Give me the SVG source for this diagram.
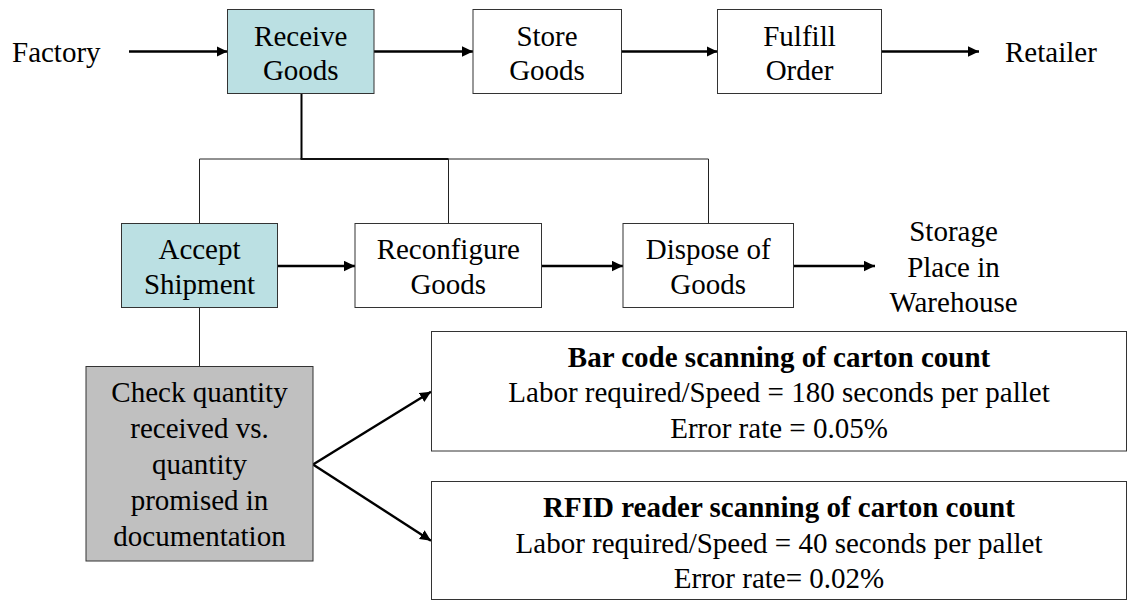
<svg xmlns="http://www.w3.org/2000/svg" width="1128" height="601" viewBox="0 0 1128 601">
<style>
text{font-family:"Liberation Serif","Times New Roman",serif;font-size:29px;fill:#000}
.c{text-anchor:middle}
.b{font-weight:bold}
.box{fill:#fff;stroke:#333;stroke-width:1}
.cyan{fill:#bbe0e3;stroke:#333;stroke-width:1}
.gray{fill:#c0c0c0;stroke:#333;stroke-width:1}
.arr{stroke:#000;stroke-width:2.4;fill:none;marker-end:url(#ah)}
.thin{stroke:#222;stroke-width:1;fill:none}
.thick{stroke:#000;stroke-width:2;fill:none}
</style>
<defs>
<marker id="ah" viewBox="0 0 11 11" refX="11" refY="5.5" markerWidth="11" markerHeight="11" markerUnits="userSpaceOnUse" orient="auto">
<path d="M0,0.3 L11,5.5 L0,10.7 z" fill="#000"/>
</marker>
</defs>
<g id="connectors">
<line class="arr" x1="129" y1="51.5" x2="227.5" y2="51.5"/>
<line class="arr" x1="374" y1="51.5" x2="473" y2="51.5"/>
<line class="arr" x1="621.5" y1="51.5" x2="717.5" y2="51.5"/>
<line class="arr" x1="881.5" y1="51.5" x2="979" y2="51.5"/>
<line class="thick" x1="301.5" y1="93.5" x2="301.5" y2="159"/>
<line class="thick" x1="300.5" y1="159" x2="448.5" y2="159"/>
<polyline class="thin" points="199.5,223.5 199.5,159 708.5,159 708.5,223.5"/>
<line class="thin" x1="448.5" y1="159" x2="448.5" y2="223.5"/>
<line class="arr" x1="277.5" y1="266" x2="355" y2="266"/>
<line class="arr" x1="541.5" y1="266" x2="623" y2="266"/>
<line class="arr" x1="793.5" y1="266" x2="875" y2="266"/>
<line class="thin" x1="199.5" y1="307.5" x2="199.5" y2="366.5"/>
<line class="arr" x1="313" y1="464.5" x2="431" y2="391.7"/>
<line class="arr" x1="313" y1="464.5" x2="431" y2="540.7"/>
</g>
<g id="factory"><text x="12" y="62.3">Factory</text></g>
<g id="retailer"><text x="1005" y="62.3">Retailer</text></g>
<g id="receive-goods">
<rect class="cyan" x="227.5" y="9.5" width="146.5" height="84"/>
<text class="c" x="300.8" y="45.5">Receive</text>
<text class="c" x="300.8" y="80">Goods</text>
</g>
<g id="store-goods">
<rect class="box" x="473" y="9.5" width="148.5" height="84"/>
<text class="c" x="547" y="45.5">Store</text>
<text class="c" x="547" y="80">Goods</text>
</g>
<g id="fulfill-order">
<rect class="box" x="717.5" y="9.5" width="164" height="84"/>
<text class="c" x="799.5" y="45.5">Fulfill</text>
<text class="c" x="799.5" y="80">Order</text>
</g>
<g id="accept-shipment">
<rect class="cyan" x="121.5" y="223.5" width="156" height="84"/>
<text class="c" x="199.5" y="258.5">Accept</text>
<text class="c" x="199.5" y="294.3">Shipment</text>
</g>
<g id="reconfigure-goods">
<rect class="box" x="355" y="223.5" width="186.5" height="84"/>
<text class="c" x="448.3" y="258.5">Reconfigure</text>
<text class="c" x="448.3" y="294.3">Goods</text>
</g>
<g id="dispose-goods">
<rect class="box" x="623" y="223.5" width="170.5" height="84"/>
<text class="c" x="708.2" y="258.5">Dispose of</text>
<text class="c" x="708.2" y="294.3">Goods</text>
</g>
<g id="storage-place">
<text class="c" x="953.5" y="240.7">Storage</text>
<text class="c" x="953.5" y="276.5">Place in</text>
<text class="c" x="953.5" y="311.7">Warehouse</text>
</g>
<g id="check-quantity">
<rect class="gray" x="86" y="366.5" width="227" height="194.5"/>
<text class="c" x="199.5" y="401.5">Check quantity</text>
<text class="c" x="199.5" y="437.5">received vs.</text>
<text class="c" x="199.5" y="473.5">quantity</text>
<text class="c" x="199.5" y="509.5">promised in</text>
<text class="c" x="199.5" y="545.5">documentation</text>
</g>
<g id="bar-code">
<rect class="box" x="431.5" y="331.5" width="695" height="119.5"/>
<text class="c b" x="779" y="366.5">Bar code scanning of carton count</text>
<text class="c" x="779" y="402">Labor required/Speed = 180 seconds per pallet</text>
<text class="c" x="779" y="438">Error rate = 0.05%</text>
</g>
<g id="rfid">
<rect class="box" x="431.5" y="481.5" width="695" height="118"/>
<text class="c b" x="779" y="516.5">RFID reader scanning of carton count</text>
<text class="c" x="779" y="552.5">Labor required/Speed = 40 seconds per pallet</text>
<text class="c" x="779" y="587.5">Error rate= 0.02%</text>
</g>
</svg>
